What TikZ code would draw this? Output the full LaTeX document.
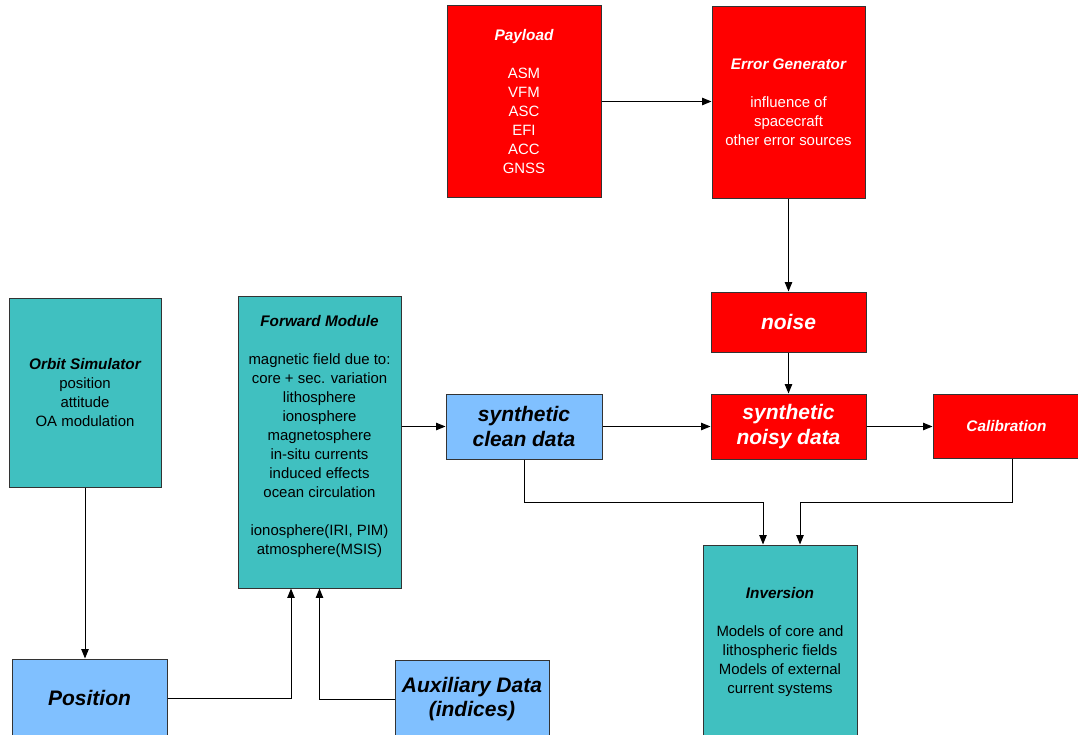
\documentclass[tikz,border=0pt]{standalone}
\usepackage{fontspec}
\setmainfont{Liberation Sans}
\usetikzlibrary{arrows.meta,calc}
\definecolor{boxred}{HTML}{FF0000}
\definecolor{boxteal}{HTML}{40C0C0}
\definecolor{boxblue}{HTML}{80C0FF}
\definecolor{edge}{HTML}{333333}
\newcommand{\ttl}[1]{{\fontsize{11.5}{14.25}\selectfont\bfseries\itshape #1}}
\begin{document}
\begin{tikzpicture}[x=0.75pt,y=-0.75pt,
  box/.style={draw=edge,line width=0.75pt,inner sep=0pt,align=center,
    font=\fontsize{11.2}{14.25}\selectfont},
  redbox/.style={box,fill=boxred,text=white},
  tealbox/.style={box,fill=boxteal,text=black},
  bluebox/.style={box,fill=boxblue,text=black},
  big/.style={font=\fontsize{15.75}{18.5}\selectfont\bfseries\itshape},
  conn/.style={draw=black,line width=0.75pt,-{Triangle[length=7pt,width=5.5pt]}},
  wire/.style={draw=black,line width=0.75pt}]
\useasboundingbox (0,0) rectangle (1078,735);
\clip (0,0) rectangle (1078,735);
% boxes
\node[redbox,minimum width=115.5pt,minimum height=143.25pt] (payload) at (524,101.5)
  {\ttl{Payload}\\[14.25pt]ASM\\VFM\\ASC\\EFI\\ACC\\GNSS};
\node[redbox,minimum width=114.75pt,minimum height=143.25pt] (errgen) at (788.5,102.5)
  {\ttl{Error Generator}\\[14.25pt]influence of\\spacecraft\\other error sources};
\node[redbox,big,minimum width=116.25pt,minimum height=45pt] (noise) at (788.5,322) {noise};
\node[redbox,big,minimum width=116.25pt,minimum height=48.75pt] (noisy) at (788.5,426.5) {synthetic\\noisy data};
\node[redbox,minimum width=110.25pt,minimum height=48pt] (calib) at (1006.5,426) {\ttl{Calibration}};
\node[bluebox,big,minimum width=117pt,minimum height=48.75pt] (clean) at (524,426.5) {synthetic\\clean data};
\node[tealbox,minimum width=122.25pt,minimum height=219pt] (fwd) at (319.5,442) {};
\node[align=center,font=\fontsize{11.2}{14.25}\selectfont,inner sep=0pt] (fwdtext) at (319.5,436)
  {\ttl{Forward Module}\\[14.25pt]magnetic field due to:\\core + sec. variation\\lithosphere\\ionosphere\\magnetosphere\\in-situ currents\\induced effects\\ocean circulation\\[14.25pt]ionosphere(IRI, PIM)\\atmosphere(MSIS)};
\node[tealbox,minimum width=114pt,minimum height=141.75pt] (orbit) at (85,392.5)
  {\ttl{Orbit Simulator}\\position\\attitude\\OA modulation};
\node[bluebox,big,minimum width=116.25pt,minimum height=58.5pt] (position) at (89.5,698) {Position};
\node[bluebox,big,minimum width=115.5pt,minimum height=58.5pt] (aux) at (472,699) {Auxiliary Data\\(indices)};
\node[tealbox,minimum width=115.5pt,minimum height=145.5pt] (inv) at (780,642)
  {\ttl{Inversion}\\[14.25pt]Models of core and\\lithospheric fields\\Models of external\\current systems};
% connectors
\draw[conn] (payload.east) -- (payload.east -| errgen.west);
\draw[conn] (errgen.south) -- (noise.north);
\draw[conn] (noise.south) -- (noisy.north);
\draw[conn] (fwd.east |- clean.west) -- (clean.west);
\draw[conn] (clean.east) -- (noisy.west);
\draw[conn] (noisy.east) -- (noisy.east -| calib.west);
\coordinate (j1) at ($(clean.south)+(0,43)$);
\coordinate (j2) at ($(calib.south)+(5.5,44)$);
\draw[conn] (clean.south) -- (j1) -| ($(inv.north)+(-17,0)$);
\draw[conn] ($(calib.south)+(5.5,0)$) -- (j2) -| ($(inv.north)+(20,0)$);
\draw[conn] (orbit.south) -- (orbit.south |- position.north);
\draw[conn] (position.east) -| ($(fwd.south)+(-28.5,0)$);
\draw[conn] (aux.west) -| (fwd.south);
\end{tikzpicture}
\end{document}
